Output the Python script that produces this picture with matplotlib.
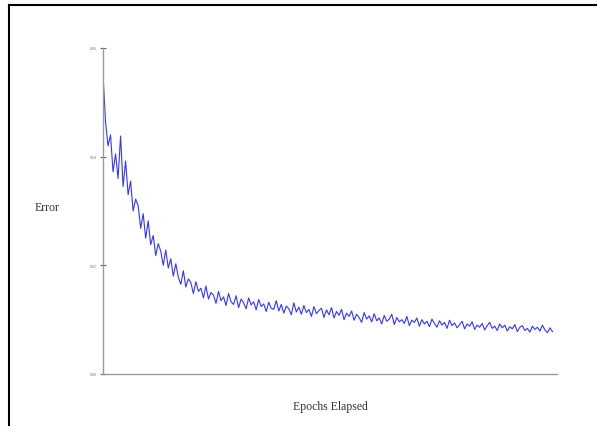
import matplotlib
matplotlib.use("Agg")
from matplotlib import pyplot as plt
from matplotlib.lines import Line2D

# training error per epoch
error = [
    0.0552, 0.0465, 0.0420, 0.0440, 0.0372, 0.0405, 0.0360, 0.0438, 0.0345, 0.0392,
    0.0330, 0.0355, 0.0300, 0.0322, 0.0310, 0.0268, 0.0295, 0.0250, 0.0282, 0.0238,
    0.0255, 0.0218, 0.0240, 0.0226, 0.0200, 0.0228, 0.0195, 0.0212, 0.0180, 0.0203,
    0.0178, 0.0165, 0.0190, 0.0160, 0.0175, 0.0168, 0.0148, 0.0170, 0.0152, 0.0158,
    0.0140, 0.0162, 0.0138, 0.0150, 0.0145, 0.0130, 0.0152, 0.0135, 0.0142, 0.0126,
    0.0148, 0.0133, 0.0128, 0.0144, 0.0122, 0.0138, 0.0131, 0.0120, 0.0140, 0.0127,
    0.0133, 0.0118, 0.0137, 0.0124, 0.0129, 0.0115, 0.0132, 0.0121, 0.0119, 0.0135,
    0.0116, 0.0128, 0.0112, 0.0125, 0.0120, 0.0109, 0.0131, 0.0114, 0.0123, 0.0110,
    0.0126, 0.0113, 0.0119, 0.0106, 0.0124, 0.0111, 0.0117, 0.0121, 0.0104, 0.0118,
    0.0109, 0.0122, 0.0103, 0.0115, 0.0108, 0.0119, 0.0100, 0.0112, 0.0106, 0.0116,
    0.0099, 0.0110, 0.0104, 0.0095, 0.0113, 0.0101, 0.0107, 0.0096, 0.0111, 0.0098,
    0.0103, 0.0092, 0.0108, 0.0097, 0.0101, 0.0110, 0.0091, 0.0104, 0.0096, 0.0100,
    0.0093, 0.0106, 0.0089, 0.0099, 0.0095, 0.0103, 0.0088, 0.0100, 0.0092, 0.0097,
    0.0087, 0.0101, 0.0093, 0.0086, 0.0098, 0.0090, 0.0095, 0.0084, 0.0099, 0.0089,
    0.0094, 0.0085, 0.0091, 0.0097, 0.0083, 0.0092, 0.0088, 0.0096, 0.0082, 0.0090,
    0.0086, 0.0093, 0.0081, 0.0089, 0.0095, 0.0084, 0.0088, 0.0080, 0.0092, 0.0085,
    0.0090, 0.0079, 0.0087, 0.0083, 0.0091, 0.0078, 0.0086, 0.0089, 0.0080, 0.0084,
    0.0077, 0.0088, 0.0082, 0.0086, 0.0079, 0.0090, 0.0081, 0.0076, 0.0085, 0.0078,
]
epochs = list(range(len(error)))

y_ticks = [0.0, 0.02, 0.04, 0.06]
y_tick_labels = ["0.00", "0.02", "0.04", "0.06"]

plt.rcParams['font.family'] = ['Liberation Serif', 'DejaVu Serif']

fig = plt.figure(figsize=(5.97, 4.27), dpi=100)
ax = fig.add_axes([103 / 597, 52 / 427, 454 / 597, 326 / 427])

ax.plot(epochs, error, color='#3535ff', linewidth=0.8)
ax.set_xlim(0, len(error) + 0.8)
ax.set_ylim(0, 0.06)

ax.set_yticks(y_ticks)
ax.set_yticklabels(y_tick_labels, fontsize=3, color='#777777')
ax.tick_params(axis='y', direction='inout', length=5, width=0.8, color='#666666', pad=2)
ax.set_xticks([])

for side in ['top', 'right']:
    ax.spines[side].set_visible(False)
for side in ['left', 'bottom']:
    ax.spines[side].set_color('#999999')
    ax.spines[side].set_linewidth(1.0)

fig.text(35 / 597, 1 - 208 / 427, "Error", fontsize=8.5, color='#333333', va='center', ha='left')
fig.text(330 / 597, 1 - 407 / 427, "Epochs Elapsed", fontsize=8.5, color='#333333', va='center', ha='center')

# page frame around the chart (only left and top edges visible)
fx = 9 / 597
fy = 1 - 5.5 / 427
fig.add_artist(Line2D([fx, fx], [0, fy], color='black', linewidth=1.5, transform=fig.transFigure))
fig.add_artist(Line2D([fx, 1], [fy, fy], color='black', linewidth=1.5, transform=fig.transFigure))

fig.savefig("out.png", dpi=100)
